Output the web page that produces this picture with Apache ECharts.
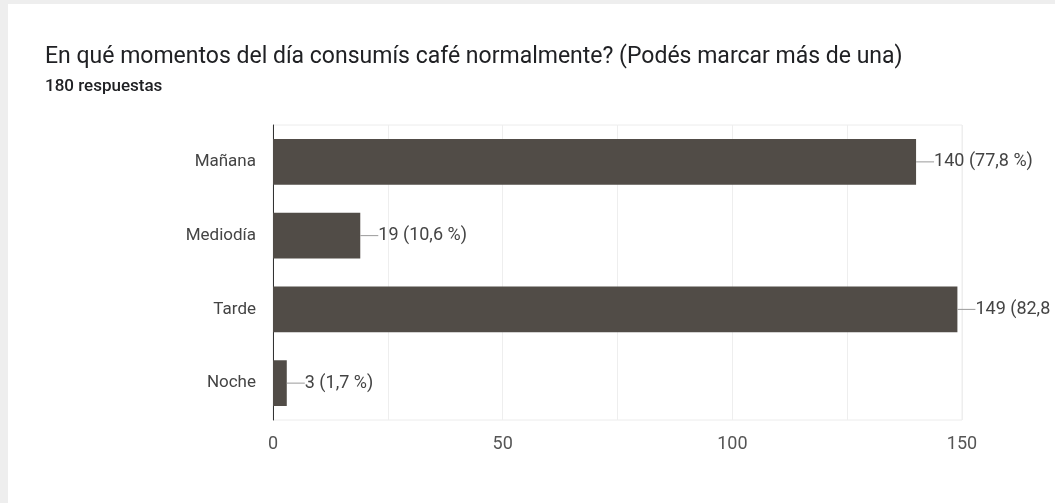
<!DOCTYPE html>
<html>
<head>
<meta charset="utf-8">
<script src="https://cdn.jsdelivr.net/npm/echarts@6/dist/echarts.min.js"></script>
<style>
  html, body { margin: 0; padding: 0; background: #eeeeee; width: 1055px; height: 503px; overflow: hidden; }
  #card { position: absolute; left: 8px; top: 4px; width: 1047px; height: 499px; background: #ffffff; }
</style>
</head>
<body>
<div id="card"></div>
<script>
// Survey question and answer counts
const questionTitle = 'En qué momentos del día consumís café normalmente? (Podés marcar más de una)';
const totalResponses = 180;
const categories = ['Mañana', 'Mediodía', 'Tarde', 'Noche'];
const counts = [140, 19, 149, 3];
const xTicks = [0, 50, 100, 150];

const pctLabel = v => (v / totalResponses * 100).toFixed(1).replace('.', ',') + ' %';
const FONT = 'Roboto, "Noto Sans", sans-serif';

const chart = echarts.init(document.getElementById('card'), null, { renderer: 'canvas' });
chart.setOption({
  animation: false,
  backgroundColor: '#ffffff',
  title: {
    text: questionTitle,
    subtext: totalResponses + ' respuestas',
    left: 32,
    top: 37,
    itemGap: 9,
    textStyle: { fontFamily: FONT, fontSize: 23, fontWeight: 'normal', color: '#202124' },
    subtextStyle: { fontFamily: FONT, fontSize: 17, fontWeight: 500, color: '#202124' }
  },
  grid: {
    left: 265, right: 93, top: 121, bottom: 83,
    show: true, borderColor: '#ececec', borderWidth: 1
  },
  xAxis: {
    type: 'value',
    min: 0, max: 150, interval: 25,
    axisLine: { show: false },
    axisTick: { show: false },
    splitLine: { show: true, lineStyle: { color: '#eeeeee', width: 1 } },
    axisLabel: {
      margin: 15,
      fontFamily: FONT, fontSize: 18, color: '#555555',
      formatter: v => (xTicks.indexOf(v) >= 0 ? String(v) : '')
    }
  },
  yAxis: {
    type: 'category',
    data: categories,
    inverse: true,
    axisLine: { show: true, lineStyle: { color: '#333333', width: 1 } },
    axisTick: { show: false },
    splitLine: { show: false },
    axisLabel: { margin: 17, fontFamily: FONT, fontSize: 17, color: '#444444' }
  },
  series: [{
    type: 'bar',
    data: counts,
    barWidth: '62%',
    itemStyle: { color: '#514c47' },
    label: {
      show: true,
      position: 'right',
      distance: 0,
      formatter: p => '{ln|}{t|' + p.value + ' (' + pctLabel(p.value) + ')}',
      rich: {
        ln: { width: 18, height: 1, backgroundColor: '#9a9a9a' },
        t: { fontFamily: FONT, fontSize: 18, color: '#444444' }
      }
    }
  }]
});
</script>
</body>
</html>
